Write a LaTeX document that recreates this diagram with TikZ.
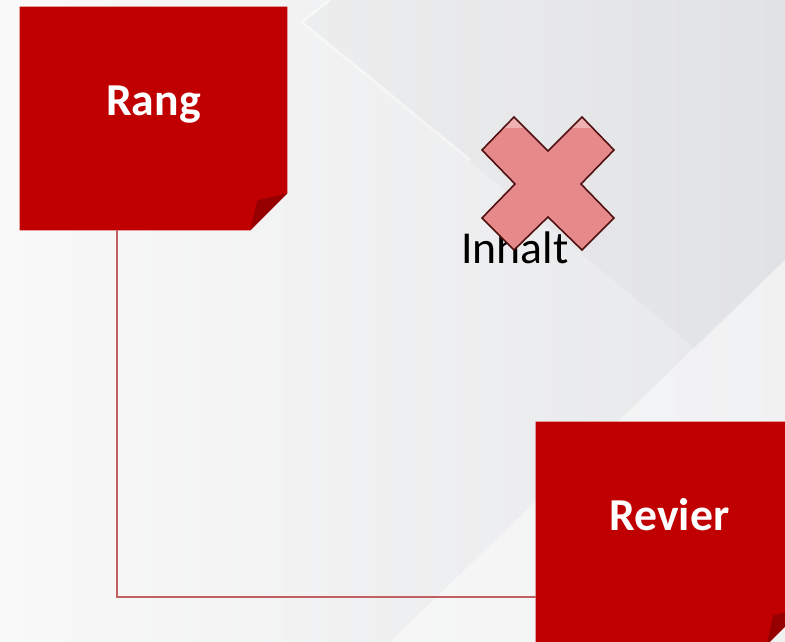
\documentclass[tikz,border=0pt]{standalone}
\usepackage{fontspec}
\setmainfont{Carlito}
\usetikzlibrary{backgrounds}

\definecolor{notered}{RGB}{192,0,0}
\definecolor{folddark}{RGB}{150,0,0}
\definecolor{linkred}{RGB}{192,96,98}
\definecolor{crossfill}{RGB}{230,137,139}
\definecolor{crossdraw}{RGB}{80,16,16}
\definecolor{bgleft}{RGB}{249,249,249}
\definecolor{bgright}{RGB}{230,231,233}

\tikzset{
	notebox/.style={rectangle, minimum width=5.34cm, minimum height=4.46cm, inner sep=0pt, text=white, font=\fontsize{26}{30}\selectfont\bfseries, text height=0.56cm, text depth=0.68cm},
	linkline/.style={draw=linkred, line width=1pt},
	crossmark/.style={fill=crossfill, draw=crossdraw, line width=0.9pt, line join=miter},
}

\begin{document}
\begin{tikzpicture}[x=0.02cm, y=-0.02cm]
	\useasboundingbox (0,0) rectangle (785,642);
	
	\node[notebox] (rang) at (153.5,118.5) {Rang};
	\node[notebox] (revier) at (669.5,533.5) {Revier};
	\node[font=\fontsize{26}{30}\selectfont, anchor=base] (inhalt) at (515,263) {Inhalt};
	
	\begin{scope}[on background layer]
		% background
		\shade[left color=bgleft, right color=bgright] (0,0) rectangle (785,642);
		\fill[black, opacity=0.018] (302,22) -- (330,0) -- (785,0) -- (785,260) -- (696,349) -- cycle;
		\fill[white, opacity=0.45] (785,260) -- (785,642) -- (390,642) -- cycle;
		\draw[white, line width=1.5pt, opacity=0.5] (330,0) -- (302,22) -- (470,160);
		
		% folded notes
		\fill[notered] (rang.north west) -- (rang.north east) -- ([yshift=0.74cm]rang.south east) -- ([xshift=-0.74cm]rang.south east) -- (rang.south west) -- cycle;
		\fill[folddark] ([yshift=0.74cm]rang.south east) -- ([xshift=-0.6cm,yshift=0.6cm]rang.south east) -- ([xshift=-0.74cm]rang.south east) -- cycle;
		\fill[notered] (revier.north west) -- (revier.north east) -- ([yshift=0.74cm]revier.south east) -- ([xshift=-0.74cm]revier.south east) -- (revier.south west) -- cycle;
		\fill[folddark] ([yshift=0.74cm]revier.south east) -- ([xshift=-0.6cm,yshift=0.6cm]revier.south east) -- ([xshift=-0.74cm]revier.south east) -- cycle;
	\end{scope}
	
	\draw[linkline] ([xshift=-0.73cm]rang.south) |- ([yshift=-1.27cm]revier.west);
	
	% cross over the text
	\filldraw[crossmark, path picture={\fill[white, opacity=0.35] (470,110) rectangle (630,128);}] (514,117) -- (548,151) -- (582,117) -- (614,150) -- (581,184) -- (614,218) -- (582,250) -- (548,217) -- (514,250) -- (482,218) -- (515,184) -- (482,150) -- cycle;
	
\end{tikzpicture}
\end{document}
